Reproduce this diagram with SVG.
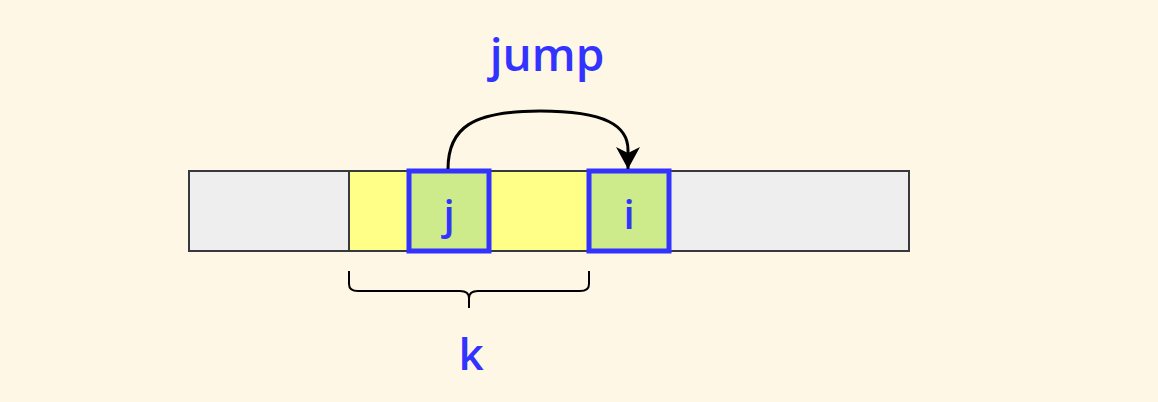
<svg xmlns="http://www.w3.org/2000/svg" width="1158" height="402" viewBox="0 0 1158 402">
<style>
.cell{stroke:#36393d;stroke-width:2}
.gray{fill:#eeeeee}
.yel{fill:#ffff88}
.sel{fill:#cdeb8b;stroke:#3333ff;stroke-width:5}
.lbl{font-family:"Open Sans","Noto Sans",sans-serif;font-weight:600;fill:#3333ff;text-anchor:middle}
.line{fill:none;stroke:#000;stroke-width:3}
</style>
<defs>
<marker id="ah" markerWidth="24" markerHeight="24" refX="22" refY="12" orient="auto" markerUnits="userSpaceOnUse" viewBox="0 0 24 24">
<path d="M0 0 L22 12 L0 24 L6 12 Z" fill="#000"/>
</marker>
</defs>
<rect width="1158" height="402" fill="#fef7e6"/>
<g id="array">
<rect class="cell gray" x="189" y="171" width="160" height="80"/>
<rect class="cell yel" x="349" y="171" width="240" height="80"/>
<rect class="cell gray" x="669" y="171" width="240" height="80"/>
</g>
<g id="node-j">
<rect class="sel" x="409" y="171" width="80" height="80"/>
<text class="lbl" x="449" y="229" font-size="40">j</text>
</g>
<g id="node-i">
<rect class="sel" x="589" y="171" width="80" height="80"/>
<text class="lbl" x="629" y="229" font-size="40">i</text>
</g>
<g id="connectors">
<path class="line" d="M448 169 C448 128 472 111 540 111 C606 111 628 126 628 150 L628 169" marker-end="url(#ah)"/>
</g>
<g id="brace">
<path d="M349 271 L349 284 Q349 291 358 291 L460 291 Q469 291 469 298 L469 308 M469 298 Q469 291 478 291 L580 291 Q589 291 589 284 L589 271" fill="none" stroke="#000" stroke-width="2"/>
</g>
<text class="lbl" x="547" y="71" font-size="46">jump</text>
<text class="lbl" x="471" y="370" font-size="44">k</text>
</svg>
